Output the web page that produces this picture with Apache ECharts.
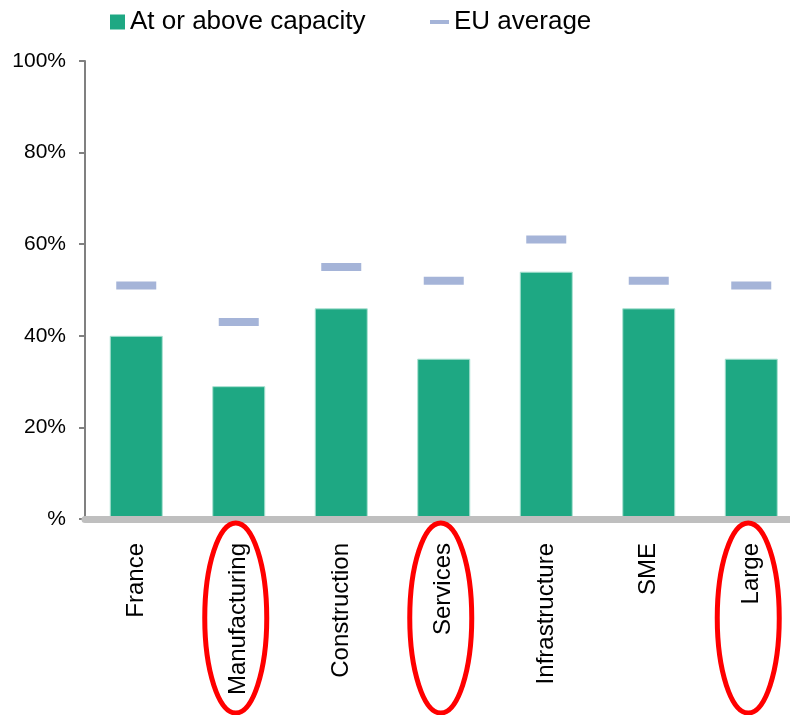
<!DOCTYPE html>
<html>
<head>
<meta charset="utf-8">
<script src="https://cdn.jsdelivr.net/npm/echarts@6/dist/echarts.min.js"></script>
<style>
html, body { margin: 0; padding: 0; background: #fff; }
#chart { width: 790px; height: 715px; }
</style>
</head>
<body>
<div id="chart"></div>
<script>
var categories = ['France', 'Manufacturing', 'Construction', 'Services', 'Infrastructure', 'SME', 'Large'];
var capacityValues = [40, 29, 46, 35, 54, 46, 35];
var euAverageValues = [51, 43, 55, 52, 61, 52, 51];
var yTicks = [0, 20, 40, 60, 80, 100];
// categories circled in red in the original
var circled = ['Manufacturing', 'Services', 'Large'];

var FONT = '"Liberation Sans", Arial, sans-serif';

var chart = echarts.init(document.getElementById('chart'));

chart.setOption({
	animation: false,
	backgroundColor: '#ffffff',
	// plot runs a little past the right edge of the canvas, like the original
	grid: { left: 85, top: 61, height: 458, width: 717.5, containLabel: false, outerBoundsMode: 'none' },
	legend: [{
		left: 105, top: 4,
		itemWidth: 15, itemHeight: 15,
		itemStyle: { borderWidth: 0 },
		textStyle: { fontFamily: FONT, fontSize: 26, color: '#000' },
		data: [{ name: 'At or above capacity', icon: 'rect' }]
	}, {
		left: 425, top: 4,
		itemWidth: 19, itemHeight: 4,
		itemStyle: { borderWidth: 0 },
		textStyle: { fontFamily: FONT, fontSize: 26, color: '#000' },
		data: [{ name: 'EU average', icon: 'rect' }]
	}],
	xAxis: {
		type: 'category',
		data: categories,
		axisLine: { show: true, lineStyle: { color: '#bfbfbf', width: 7 } },
		axisTick: { show: false },
		axisLabel: {
			rotate: 90, margin: 24, interval: 0,
			fontFamily: FONT, fontSize: 24, color: '#000'
		},
		z: 5
	},
	yAxis: {
		type: 'value',
		min: yTicks[0], max: yTicks[yTicks.length - 1], interval: 20,
		axisLine: { show: true, lineStyle: { color: '#808080', width: 2 } },
		axisTick: { show: true, length: 6, lineStyle: { color: '#808080', width: 2 } },
		splitLine: { show: false },
		axisLabel: {
			margin: 19, fontFamily: FONT, fontSize: 21, color: '#000',
			formatter: function (v) { return v === 0 ? '%' : v + '%'; }
		}
	},
	series: [{
		name: 'At or above capacity',
		type: 'bar',
		data: capacityValues,
		barWidth: 53,
		itemStyle: { color: '#1ea883', borderColor: '#a8e0d0', borderWidth: 1 },
		z: 2
	}, {
		name: 'EU average',
		type: 'scatter',
		data: euAverageValues,
		symbol: 'rect',
		symbolSize: [40, 8],
		itemStyle: { color: '#a5b4d8', opacity: 1 },
		z: 3
	}]
});

// red ellipses round the circled category labels
var graphics = [];
circled.forEach(function (name) {
	var idx = categories.indexOf(name);
	var p = chart.convertToPixel({ xAxisIndex: 0 }, idx);
	graphics.push({
		type: 'ellipse',
		shape: { cx: p - 3, cy: 618, rx: 31, ry: 95 },
		style: { fill: 'none', stroke: '#ff0000', lineWidth: 5 },
		z: 10
	});
});
chart.setOption({ graphic: graphics });
</script>
</body>
</html>
